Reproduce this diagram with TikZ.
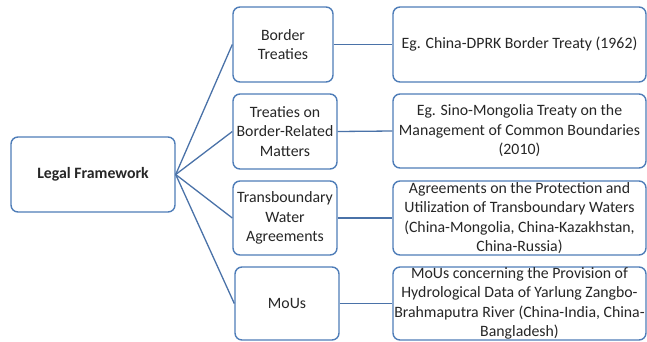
\documentclass[tikz,border=0pt]{standalone}
\usepackage{fontspec}
\setmainfont{Carlito}
\definecolor{boxblue}{HTML}{4F7DB8}
\definecolor{lineblue}{HTML}{4A72A8}
\definecolor{txt}{HTML}{262626}
\begin{document}
\begin{tikzpicture}[x=1pt,y=-1pt,
  box/.style={draw=boxblue,line width=1.4pt,rounded corners=7pt,fill=white,text=txt,inner sep=0pt,align=center,font=\fontsize{15.8}{19.5}\selectfont},
  conn/.style={draw=lineblue,line width=1.3pt}]
\useasboundingbox (0,0) rectangle (647,341);
\node[box,minimum width=164pt,minimum height=75pt,font=\bfseries\fontsize{15.8}{19.5}\selectfont] (lf) at (93,174.5) {Legal Framework};
\node[box,minimum width=100pt,minimum height=75pt] (m1) at (283,44.5) {Border\\Treaties};
\node[box,minimum width=104pt,minimum height=75pt] (m2) at (285,131.5) {Treaties on\\Border-Related\\Matters};
\node[box,minimum width=104pt,minimum height=74pt] (m3) at (285,218) {Transboundary\\Water\\Agreements};
\node[box,minimum width=104pt,minimum height=73pt] (m4) at (287,303.5) {MoUs};
\node[box,minimum width=253pt,minimum height=75pt] (r1) at (519.5,44.5) {Eg. China-DPRK Border Treaty (1962)};
\node[box,minimum width=253pt,minimum height=74pt] (r2) at (519.5,131) {Eg. Sino-Mongolia Treaty on the\\Management of Common Boundaries\\(2010)};
\node[box,minimum width=253pt,minimum height=74pt] (r3) at (519.5,218) {Agreements on the Protection and\\Utilization of Transboundary Waters\\(China-Mongolia, China-Kazakhstan,\\China-Russia)};
\node[box,minimum width=253pt,minimum height=73pt] (r4) at (519.5,303.5) {MoUs concerning the Provision of\\Hydrological Data of Yarlung Zangbo-\\Brahmaputra River (China-India, China-\\Bangladesh)};
\foreach \m in {m1,m2,m3,m4} {\draw[conn] (lf.east) -- (\m.west);}
\draw[conn] (m1.east) -- (r1.west);
\draw[conn] (m2.east) -- (r2.west);
\draw[conn] (m3.east) -- (r3.west);
\draw[conn] (m4.east) -- (r4.west);
\end{tikzpicture}
\end{document}
